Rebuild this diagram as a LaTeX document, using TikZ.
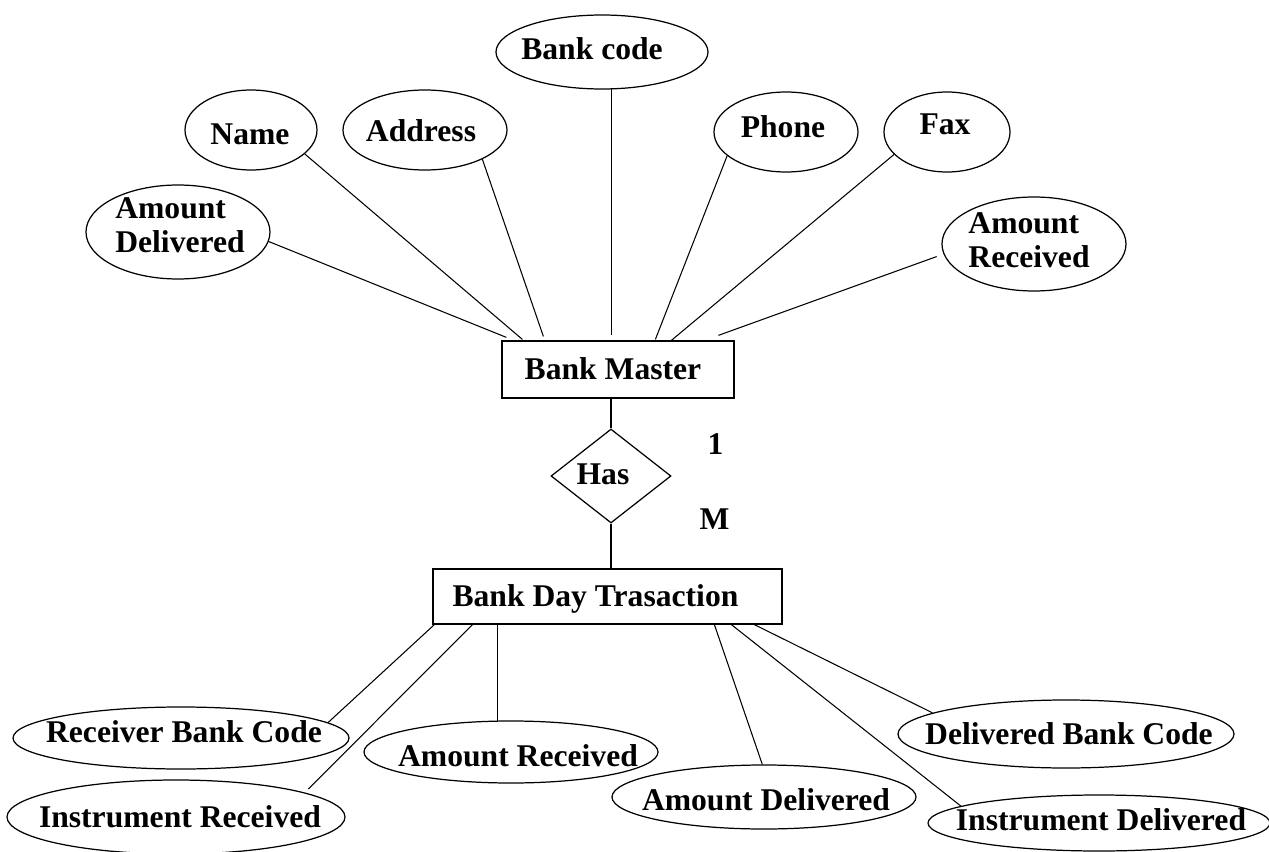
\documentclass[tikz,border=0pt]{standalone}
\usepackage{fontspec}
\setmainfont{Liberation Serif}
\usetikzlibrary{shapes.geometric}
% one drawing unit = one pixel of the 1269 x 852 sheet
\newlength\pxu
\setlength\pxu{0.02cm}
\begin{document}
\begin{tikzpicture}[x=0.02cm, y=-0.02cm,
  every node/.style={font=\fontsize{18}{19.5}\selectfont\bfseries},
  attrib/.style={ellipse, draw, line width=0.7pt, inner sep=0pt},
  entity/.style={rectangle, draw, line width=0.7pt, inner sep=0pt},
  rel/.style={diamond, draw, line width=0.7pt, inner sep=0pt},
  dims/.style 2 args={minimum width=#1*\pxu, minimum height=#2*\pxu},
  lbl/.style={inner sep=0pt, align=left},
  conn/.style={line width=0.6pt},
]
\fill[white] (0,0) rectangle (1269,852);
\useasboundingbox (0,0) rectangle (1269,852);

% entity: Bank Master and its attributes
\node[entity, dims={232}{57}, label={[lbl,shift={(-5,-1)}]center:Bank Master}] (bm) at (618,369.5) {};
\node[attrib, dims={212}{74}, label={[lbl,shift={(-10,-3)}]center:Bank code}] (bcode) at (602,52) {};
\node[attrib, dims={132}{80}, label={[lbl,shift={(-1,4)}]center:Name}] (name) at (251,130) {};
\node[attrib, dims={164}{80}, label={[lbl,shift={(-4,1)}]center:Address}] (addr) at (425,130) {};
\node[attrib, dims={184}{94}, label={[lbl,shift={(2,-7)}]center:{Amount\\Delivered}}] (amtdel) at (178,232) {};
\node[attrib, dims={144}{80}, label={[lbl,shift={(-3,-5)}]center:Phone}] (phone) at (786,132) {};
\node[attrib, dims={126}{80}, label={[lbl,shift={(-2,-8)}]center:Fax}] (fax) at (947,132) {};
\node[attrib, dims={184}{94}, label={[lbl,shift={(-5,-4)}]center:{Amount\\Received}}] (amtrec) at (1034,244) {};

\draw[conn] (amtdel.-6) -- ([shift={(5,-3)}]bm.north west);
\draw[conn] (name.-24) -- ([shift={(21,-1)}]bm.north west);
\draw[conn] (addr.-27) -- ([shift={(42,-4)}]bm.north west);
\draw[conn] (bcode.-76) -- ([shift={(0,-5)}]bcode.-76 |- bm.north);
\draw[conn] (phone.202) -- ([shift={(154,-1)}]bm.north west);
\draw[conn] (fax.203) -- ([shift={(170,0)}]bm.north west);
\draw[conn] ([shift={(-8,0)}]amtrec.188) -- ([shift={(217,-5)}]bm.north west);

% relationship
\node[rel, dims={120}{94}, label={[lbl,shift={(-8,-2)}]center:Has}] (has) at (611,476) {};
\node (one) at (715.5,444) {1};
\node (many) at (714.5,519.5) {M};

% entity: Bank Day Trasaction and its attributes
\node[entity, dims={349}{55}, label={[lbl,shift={(-12,2)}]center:Bank Day Trasaction}] (bdt) at (607.5,596.5) {};

\draw[conn] (has.north |- bm.south) -- (has.north);
\draw[conn] (has.south) -- (has.south |- bdt.north);

\node[attrib, dims={336}{62}, label={[lbl,shift={(3,-6)}]center:Receiver Bank Code}] (rbc) at (181,738) {};
\node[attrib, dims={338}{74}, label={[lbl,shift={(4,0)}]center:Instrument Received}] (ir) at (176,817) {};
\node[attrib, dims={294}{62}, label={[lbl,shift={(7,4)}]center:Amount Received}] (ar) at (511,752) {};
\node[attrib, dims={304}{64}, label={[lbl,shift={(2,3)}]center:Amount Delivered}] (ad) at (764,797) {};
\node[attrib, dims={336}{68}, label={[lbl,shift={(3,0)}]center:Delivered Bank Code}] (dbc) at (1066,734) {};
\node[attrib, dims={342}{56}, label={[lbl,shift={(2,-3)}]center:Instrument Delivered}] (id) at (1099,823) {};

\draw[conn] ([shift={(2,0)}]bdt.south west) -- (rbc.6);
\draw[conn] ([shift={(40,0)}]bdt.south west) -- ([shift={(10,-2)}]ir.12);
\draw[conn] (ar.113 |- bdt.south) -- (ar.113);
\draw[conn] ([shift={(282,0)}]bdt.south west) -- (ad.93);
\draw[conn] ([shift={(299,0)}]bdt.south west) -- (id.173);
\draw[conn] ([shift={(322,0)}]bdt.south west) -- (dbc.171);
\end{tikzpicture}
\end{document}
